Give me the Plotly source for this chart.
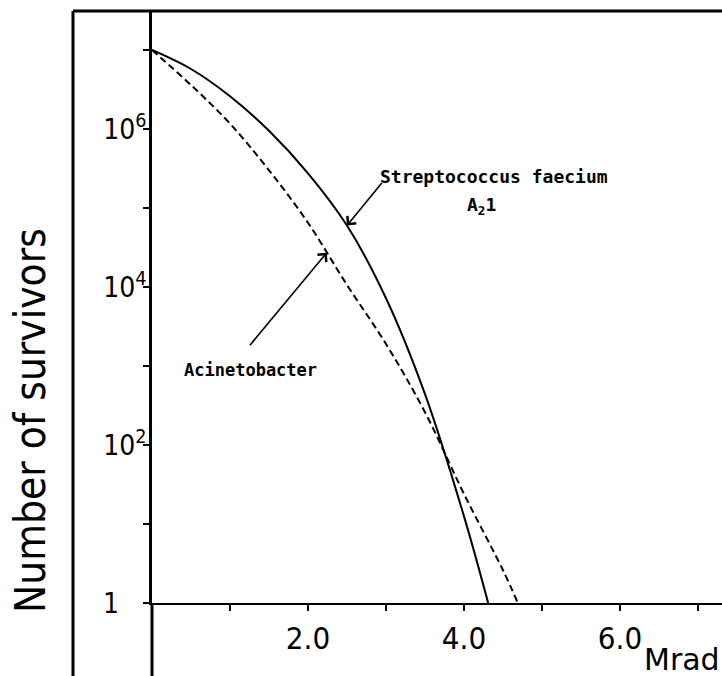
import numpy as np
import plotly.graph_objects as go

# Survival curves: dose in Mrad vs number of survivors
dose_strep = [0.0, 0.5, 1.0, 1.5, 2.0, 2.5, 3.0, 3.5, 4.0, 4.31]
survivors_strep = [1.0e7, 5.75e6, 2.6e6, 9.5e5, 2.75e5, 6.0e4, 7.2e3, 4.4e2, 12.5, 1.0]

dose_acin = [0.0, 0.5, 1.0, 1.5, 2.0, 2.5, 3.0, 3.5, 4.0, 4.5, 4.69]
survivors_acin = [1.0e7, 3.6e6, 1.17e6, 3.0e5, 6.5e4, 1.06e4, 1.9e3, 2.6e2, 24, 2.6, 1.0]

x_tickvals = [1, 2, 3, 4, 5, 6, 7]
x_ticktext = ["", "2.0", "", "4.0", "", "6.0", ""]
y_tickvals = [1, 10, 1e2, 1e3, 1e4, 1e5, 1e6, 1e7]
y_ticktext = [
    "1<span style='color:rgba(0,0,0,0)'>0<sup>0</sup></span>",
    "", "10<sup>2</sup>", "", "10<sup>4</sup>", "", "10<sup>6</sup>", "",
]

W, H = 722, 676
ML, MR, MT, MB = 152, 0, 11, 73
PW, PH = W - ML - MR, H - MT - MB
X_PER_UNIT = 78.0
DECADE = 79.0


def px(xp):
    return (xp - ML) / PW


def py(yp):
    return (H - MB - yp) / PH


LABEL_FONT = "DejaVu Sans Condensed, DejaVu Sans, sans-serif"
WIDE_FONT = "DejaVu Sans, sans-serif"
MONO_FONT = "DejaVu Sans Mono, monospace"

fig = go.Figure()
fig.add_trace(go.Scatter(
    x=dose_strep, y=survivors_strep, mode="lines",
    line=dict(color="black", width=2, shape="spline", smoothing=1.0),
    name="Streptococcus faecium A21", showlegend=False,
))
fig.add_trace(go.Scatter(
    x=dose_acin, y=survivors_acin, mode="lines",
    line=dict(color="black", width=2, dash="7px,4px", shape="spline", smoothing=1.0),
    name="Acinetobacter", showlegend=False,
))

# arrow targets taken on the curves themselves
strep_x = 2.5
strep_y = 10 ** np.interp(strep_x, dose_strep, np.log10(survivors_strep))
acin_x = 2.24
acin_y = 10 ** np.interp(acin_x, dose_acin, np.log10(survivors_acin))

annotations = [
    dict(x=strep_x, y=np.log10(strep_y), xref="x", yref="y", text="",
         showarrow=True, arrowhead=4, arrowsize=1.4, arrowwidth=1.6,
         arrowcolor="black", ax=36, ay=-44),
    dict(x=acin_x, y=np.log10(acin_y), xref="x", yref="y", text="",
         showarrow=True, arrowhead=4, arrowsize=1.4, arrowwidth=1.6,
         arrowcolor="black", ax=-78, ay=94),
    dict(x=px(378), y=py(176), xref="paper", yref="paper", xanchor="left",
         yanchor="middle", showarrow=False, text="<b>Streptococcus faecium</b>",
         font=dict(family=MONO_FONT, size=18, color="black")),
    dict(x=px(481), y=py(206), xref="paper", yref="paper", xanchor="center",
         yanchor="middle", showarrow=False, text="<b>A<sub>2</sub>1</b>",
         font=dict(family=MONO_FONT, size=18, color="black")),
    dict(x=px(182), y=py(370), xref="paper", yref="paper", xanchor="left",
         yanchor="middle", showarrow=False, text="<b>Acinetobacter</b>",
         font=dict(family=MONO_FONT, size=17, color="black")),
    dict(x=px(642), y=py(659), xref="paper", yref="paper", xanchor="left",
         yanchor="middle", showarrow=False, text="Mrad",
         font=dict(family=WIDE_FONT, size=30, color="black")),
    dict(x=px(30), y=py(421), xref="paper", yref="paper", xanchor="center",
         yanchor="middle", showarrow=False, text="Number of survivors",
         textangle=-90, font=dict(family=LABEL_FONT, size=42, color="black")),
]

shapes = [
    # outer frame: left and top edges
    dict(type="line", xref="paper", yref="paper", x0=px(73), x1=px(73),
         y0=1, y1=py(H), line=dict(color="black", width=3)),
    dict(type="line", xref="paper", yref="paper", x0=px(73), x1=1,
         y0=1, y1=1, line=dict(color="black", width=3)),
    # survivors axis continues below the dose axis
    dict(type="line", xref="paper", yref="paper", x0=0, x1=0,
         y0=0, y1=py(H), line=dict(color="black", width=3)),
]

fig.update_layout(
    width=W, height=H,
    margin=dict(l=ML, r=MR, t=MT, b=MB, pad=0),
    paper_bgcolor="white", plot_bgcolor="white",
    font=dict(family=LABEL_FONT, color="black"),
    annotations=annotations, shapes=shapes,
    xaxis=dict(
        range=[0, PW / X_PER_UNIT], showgrid=False, zeroline=False,
        showline=True, linecolor="black", linewidth=2,
        ticks="outside", ticklen=6, tickwidth=2, tickcolor="black",
        tickvals=x_tickvals, ticktext=x_ticktext,
        tickfont=dict(family=LABEL_FONT, size=31, color="black"),
        ticklabelstandoff=1,
    ),
    yaxis=dict(
        type="log", range=[0, PH / DECADE], showgrid=False, zeroline=False,
        showline=True, linecolor="black", linewidth=3,
        ticks="outside", ticklen=6, tickwidth=2, tickcolor="black",
        tickvals=y_tickvals, ticktext=y_ticktext,
        tickfont=dict(family=LABEL_FONT, size=28, color="black"),
        ticklabelstandoff=-9,
    ),
)

fig.write_html("out.html")
